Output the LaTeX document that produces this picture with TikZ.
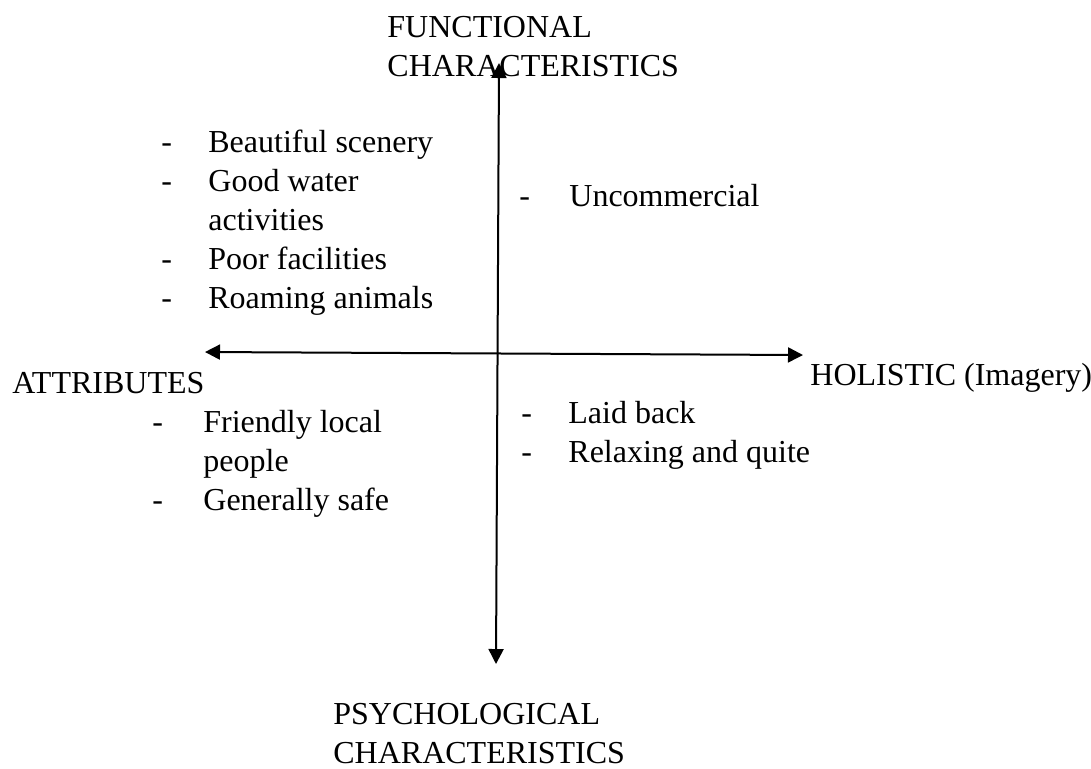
\documentclass[tikz,border=0pt]{standalone}
\usepackage{fontspec}
\setmainfont{Liberation Serif}
\usetikzlibrary{arrows.meta, positioning}

\begin{document}
\begin{tikzpicture}[
    x=0.5pt, y=-0.5pt,
    lbl/.style={anchor=base west, inner sep=0pt, font=\fontsize{16pt}{19.5pt}\selectfont},
    axis/.style={{Triangle[length=7.5pt,width=7.5pt]}-{Triangle[length=7.5pt,width=7.5pt]}, line width=1pt}
]
    \useasboundingbox (0,0) rectangle (1091,768);

    % Axis ends
    \coordinate (top) at (499,63);
    \coordinate (bottom) at (496,664);
    \coordinate (left) at (205,352);
    \coordinate (right) at (803,355);

    % Axes
    \draw[axis] (bottom) -- (top);
    \draw[axis] (left) -- (right);

    % Axis labels
    \node[lbl] (func1) at (387,37) {FUNCTIONAL};
    \node[lbl] (func2) at (387,76) {CHARACTERISTICS};
    \node[lbl] (psy1) at (333,724) {PSYCHOLOGICAL};
    \node[lbl] (psy2) at (333,763) {CHARACTERISTICS};
    \node[lbl] (attr) at (12,393) {ATTRIBUTES};
    \node[lbl] (hol) at (810,385) {HOLISTIC (Imagery)};

    % Top left quadrant
    \foreach \y/\txt [count=\i] in {152/Beautiful scenery, 191/Good water, 230/activities,
                                    269/Poor facilities, 308/Roaming animals} {
        \node[lbl] (tl\i) at (208,\y) {\txt};
    }
    \foreach \y [count=\i] in {152,191,269,308} {
        \node[lbl] (tldash\i) at (161,\y) {-};
    }

    % Top right quadrant
    \node[lbl] (trdash1) at (519,206) {-};
    \node[lbl] (tr1) at (569,206) {Uncommercial};

    % Bottom left quadrant
    \foreach \y/\txt [count=\i] in {432/Friendly local, 471/people, 510/Generally safe} {
        \node[lbl] (bl\i) at (203,\y) {\txt};
    }
    \foreach \y [count=\i] in {432,510} {
        \node[lbl] (bldash\i) at (152,\y) {-};
    }

    % Bottom right quadrant
    \foreach \y/\txt [count=\i] in {423/Laid back, 462/Relaxing and quite} {
        \node[lbl] (br\i) at (568,\y) {\txt};
        \node[lbl] (brdash\i) at (521,\y) {-};
    }
\end{tikzpicture}
\end{document}
